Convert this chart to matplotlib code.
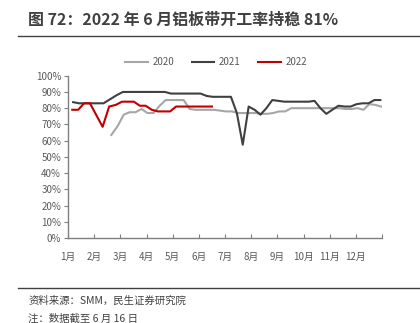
import matplotlib
matplotlib.use("Agg")
import matplotlib.pyplot as plt
import pandas as pd

plt.rcParams['font.family'] = ['Noto Sans CJK SC', 'DejaVu Sans']

# weekly operating rate of aluminium plate/strip (%)
start_2020 = '2020-02-20'
rate_2020 = [63.5, 69, 76, 77.5, 77.5, 79.5, 77, 77, 81.5, 85, 85, 85, 85, 79.5,
             79, 79, 79, 79, 78.5, 78, 78, 77, 77, 77, 77, 76.5, 76.5, 77, 78, 78,
             80, 80, 80, 80, 80, 80, 80, 80, 80, 79.5, 79.5, 80, 79, 82.5, 82, 81]
start_2021 = '2021-01-07'
rate_2021 = [83.7, 83, 83, 83, 83, 83, 85.5, 88, 90, 90, 90, 90, 90, 90, 90, 90,
             89, 89, 89, 89, 89, 89, 87.5, 87, 87, 87, 87, 77, 57.5, 81, 79, 76,
             80, 85, 84.5, 84, 84, 84, 84, 84, 84.5, 80, 76.5, 79, 81.5, 81, 81,
             82.5, 83, 83, 85, 85]
start_2022 = '2022-01-06'
rate_2022 = [79, 79, 83, 83, 76, 68.5, 81, 82, 84, 84, 84, 81.5, 81.5, 79, 78, 78,
             78, 81, 81, 81, 81, 81, 81, 81]

series = [('2020', start_2020, rate_2020, '#a6a6a6'),
          ('2021', start_2021, rate_2021, '#404040'),
          ('2022', start_2022, rate_2022, '#c00000')]
month_labels = [f'{m}月' for m in range(1, 13)]


def month_pos(dates):
    # position on a 0..12 month axis
    return (dates.month - 1) + (dates.day - 1) / dates.days_in_month


fig = plt.figure(figsize=(4.2, 3.23), dpi=100)
ax = fig.add_axes([0.162, 0.2632, 0.7476, 0.5024])

for name, start, vals, col in series:
    d = pd.date_range(start, periods=len(vals), freq='7D')
    ax.plot(month_pos(d), vals, color=col, lw=1.5, label=name)

ax.set_xlim(0, 12)
ax.set_ylim(0, 100)
ax.set_xticks(range(13))
ax.set_xticklabels(month_labels + [''])
ax.set_yticks(range(0, 101, 10))
ax.set_yticklabels([f'{v}%' for v in range(0, 101, 10)])
for s in ['top', 'right']:
    ax.spines[s].set_visible(False)
for s in ['left', 'bottom']:
    ax.spines[s].set_color('#7f7f7f')
    ax.spines[s].set_linewidth(1)
ax.tick_params(axis='x', direction='in', length=3, color='#7f7f7f',
               labelsize=7, labelcolor='#595959', pad=10)
ax.tick_params(axis='y', direction='out', length=3, color='#7f7f7f',
               labelsize=7, labelcolor='#595959', pad=2)

fig.legend(loc='center', bbox_to_anchor=(0.515, 0.808), ncol=3, frameon=False,
           fontsize=7, labelcolor='#595959', handlelength=2.3,
           columnspacing=1.8, handletextpad=0.5)

fig.text(0.067, 0.938, '图 72：2022 年 6 月铝板带开工率持稳 81%', fontsize=11.5,
         fontweight='bold', color='#404040', va='center')
fig.add_artist(plt.Line2D([0.043, 1], [0.888, 0.888], color='#404040', lw=1))
fig.add_artist(plt.Line2D([0.043, 1], [0.109, 0.109], color='#404040', lw=1))
fig.text(0.067, 0.07, '资料来源：SMM，民生证券研究院', fontsize=7.5,
         color='#404040', va='center')
fig.text(0.067, 0.012, '注：数据截至 6 月 16 日', fontsize=7.5,
         color='#404040', va='center')

fig.savefig('out.png', dpi=100)
